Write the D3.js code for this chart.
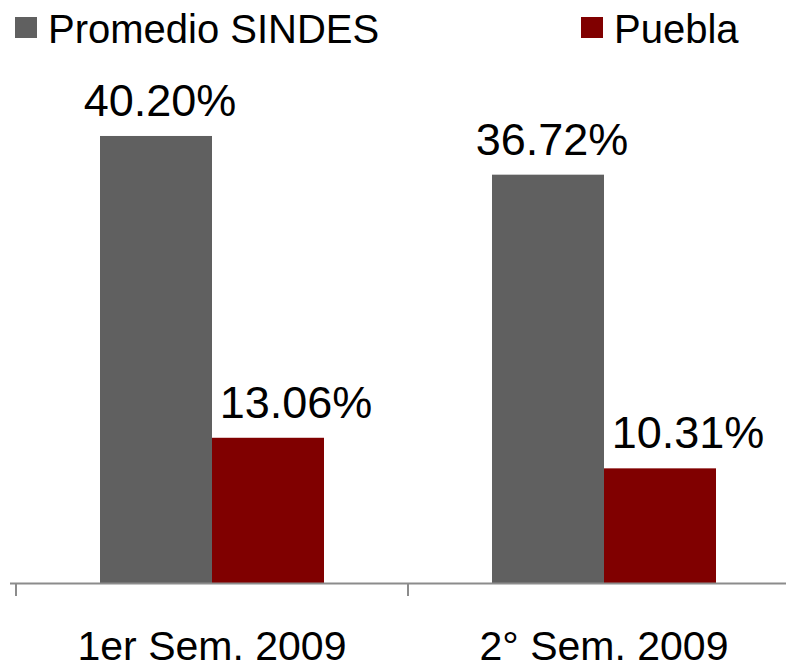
<!DOCTYPE html>
<html>
<head>
  <meta charset="utf-8">
  <title>Promedio SINDES vs Puebla</title>
  <style>
    body { margin: 0; background: #fff; }
    text { font-family: "Liberation Sans", Arial, sans-serif; fill: #000; }
  </style>
</head>
<body>
  <script src="https://cdn.jsdelivr.net/npm/d3@7/dist/d3.min.js"></script>
  <script>
    // data
    var categories = ["1er Sem. 2009", "2° Sem. 2009"];
    var seriesNames = ["Promedio SINDES", "Puebla"];
    var sindes = [40.20, 36.72];
    var puebla = [13.06, 10.31];
    var valueLabels = [["40.20%", "36.72%"], ["13.06%", "10.31%"]];
    var colors = ["#606060", "#800000"];

    var width = 786, height = 670;
    var baseY = 583;

    var svg = d3.select("body").append("svg")
      .attr("width", width)
      .attr("height", height);

    // scales
    var x = d3.scaleBand().domain(categories).range([16, 800]).padding(0);
    var x1 = d3.scaleBand().domain(seriesNames).range([x.bandwidth() / 2 - 112, x.bandwidth() / 2 + 112]);
    var y = d3.scaleLinear().domain([0, 45]).range([baseY, baseY - 45 * 11.12]);

    var series = [sindes, puebla];

    // bars
    series.forEach(function (vals, si) {
      svg.selectAll(".bar" + si)
        .data(vals)
        .enter().append("rect")
        .attr("x", function (d, i) { return x(categories[i]) + x1(seriesNames[si]); })
        .attr("width", x1.bandwidth())
        .attr("y", function (d) { return y(d); })
        .attr("height", function (d) { return baseY - y(d); })
        .style("fill", colors[si]);

      // value labels (puebla ones sit a bit to the right)
      svg.selectAll(".lbl" + si)
        .data(vals)
        .enter().append("text")
        .attr("x", function (d, i) {
          return x(categories[i]) + x1(seriesNames[si]) + x1.bandwidth() / 2 + (si === 1 ? 28 : 4);
        })
        .attr("y", function (d) { return y(d) - 20; })
        .attr("text-anchor", "middle")
        .style("font-size", "45px")
        .text(function (d, i) { return valueLabels[si][i]; });
    });

    // x axis
    var axis = svg.append("g").attr("transform", "translate(0," + baseY + ")");
    axis.append("line")
      .attr("x1", 10).attr("x2", width)
      .attr("y1", 0.5).attr("y2", 0.5)
      .style("stroke", "#8c8c8c").style("stroke-width", 2);
    axis.selectAll(".tick")
      .data(categories.concat(["end"]))
      .enter().append("line")
      .attr("x1", function (d, i) { return i < categories.length ? x(d) : x.range()[1]; })
      .attr("x2", function (d, i) { return i < categories.length ? x(d) : x.range()[1]; })
      .attr("y1", 0).attr("y2", 13)
      .style("stroke", "#8c8c8c").style("stroke-width", 2);
    axis.selectAll(".cat")
      .data(categories)
      .enter().append("text")
      .attr("x", function (d) { return x(d) + x.bandwidth() / 2; })
      .attr("y", 77)
      .attr("text-anchor", "middle")
      .style("font-size", "41px")
      .text(function (d) { return d; });

    // legend
    var legX = [15, 581];
    seriesNames.forEach(function (name, i) {
      svg.append("rect")
        .attr("x", legX[i]).attr("y", 17)
        .attr("width", 22).attr("height", 21)
        .style("fill", colors[i]);
      svg.append("text")
        .attr("x", legX[i] + 33).attr("y", 43)
        .style("font-size", "40px")
        .text(name);
    });
  </script>
</body>
</html>
